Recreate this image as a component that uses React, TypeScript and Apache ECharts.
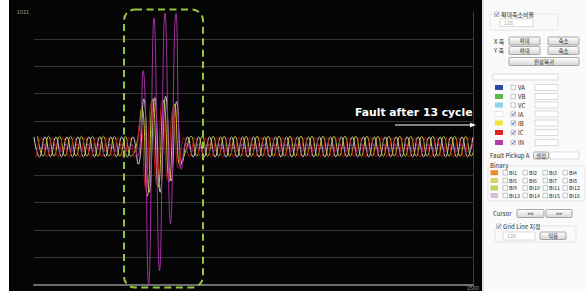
import React, { useEffect, useRef } from "react";
import * as echarts from "echarts";

// ---- axis ----
const X_MAX = 2560;
const Y_MAX = 1021;
const Y_INTERVAL = 204.2;
const HALF_CYCLE = 32; // samples between successive peaks

// ---- series: signed peak values, one per half cycle ----
const iaOffset = 0;
const iaPeaks = [
  85, -65, 85, -65, 85, -65, 85, -65, 85, -65,
  85, -65, 85, -65, 85, -65, 85, -65, 85, -120,
  370, -330, 380, -330, 390, -245, 350, -110, 85, -65,
  85, -65, 85, -65, 85, -65, 85, -65, 85, -65,
  85, -65, 85, -65, 85, -65, 85, -65, 85, -65,
  85, -65, 85, -65, 85, -65, 85, -65, 85, -65,
  85, -65, 85, -65, 85, -65, 85, -65, 85, -65,
  85, -65, 85, -65, 85, -65, 85, -65, 85, -65,
  85,
];
const ibOffset = 21;
const ibPeaks = [
  90, -60, 90, -60, 90, -60, 90, -60, 90, -60,
  90, -60, 90, -60, 90, -60, 90, -60, 20, 300,
  -360, 370, -290, 360, -250, 330, -130, -20, 90, -60,
  90, -60, 90, -60, 90, -60, 90, -60, 90, -60,
  90, -60, 90, -60, 90, -60, 90, -60, 90, -60,
  90, -60, 90, -60, 90, -60, 90, -60, 90, -60,
  90, -60, 90, -60, 90, -60, 90, -60, 90, -60,
  90, -60, 90, -60, 90, -60, 90, -60, 90, -60,
  90,
];
const icOffset = 11;
const icPeaks = [
  -65, 80, -65, 80, -65, 80, -65, 80, -65, 80,
  -65, 80, -65, 80, -65, 80, -65, 80, -65, 200,
  -300, 340, -270, 350, -240, 300, -150, 80, -65, 80,
  -65, 80, -65, 80, -65, 80, -65, 80, -65, 80,
  -65, 80, -65, 80, -65, 80, -65, 80, -65, 80,
  -65, 80, -65, 80, -65, 80, -65, 80, -65, 80,
  -65, 80, -65, 80, -65, 80, -65, 80, -65, 80,
  -65, 80, -65, 80, -65, 80, -65, 80, -65, 80,
  -65,
];
const inOffset = 28;
const inPeaks = [
  -20, 25, -20, 25, -20, 25, -20, 25, -20, 25,
  -20, 25, -20, 25, -20, 25, -20, 25, -60, 581,
  -1015, 976, -917, 1013, -566, 1010, -160, 40, -20, 25,
  -20, 25, -20, 25, -20, 25, -20, 25, -20, 25,
  -20, 25, -20, 25, -20, 25, -20, 25, -20, 25,
  -20, 25, -20, 25, -20, 25, -20, 25, -20, 25,
  -20, 25, -20, 25, -20, 25, -20, 25, -20, 25,
  -20, 25, -20, 25, -20, 25, -20, 25, -20, 25,
  -20,
];

// ---- panel content ----
const legendNames = ["VA", "VB", "VC", "IA", "IB", "IC", "IN"];
const legendColors = ["#2b4aa6", "#5cb84a", "#8fd3e6", "#ffffff", "#f0e43a", "#e52222", "#b23cab"];
const legendChecked = [false, false, false, true, true, true, true];
const binaryColors = ["#f08a2c", "#d6d466", "#b9d85a", "#dcbcdc"];
const binaryLabels = [
  ["BI1", "BI2", "BI3", "BI4"],
  ["BI5", "BI6", "BI7", "BI8"],
  ["BI9", "BI10", "BI11", "BI12"],
  ["BI13", "BI14", "BI15", "BI16"],
];
const annotationText = "Fault after 13 cycle";

// ---- layout ----
const legendRowY = [87.5, 96.5, 105, 114, 123, 132.5, 142.5];
const binaryRowY = [172.7, 180.5, 188, 195.5];
const binaryColX = [503, 523, 543, 563];

const FONT = '"Noto Sans CJK KR", "Noto Sans", sans-serif';

function txt(x: number, y: number, text: string, opts: any = {}) {
  return {
    type: "text",
    x,
    y,
    z: 20,
    style: {
      text,
      fill: opts.fill || "#2e2e2e",
      fontSize: opts.fontSize || 6,
      fontFamily: opts.fontFamily || FONT,
      fontWeight: opts.fontWeight || "normal",
      textAlign: opts.align || "left",
      textVerticalAlign: "middle",
    },
  };
}
function box(x: number, y: number, w: number, h: number, fill: string, stroke: string, r = 0, lw = 0.6) {
  return {
    type: "rect",
    z: 15,
    shape: { x, y, width: w, height: h, r },
    style: { fill, stroke, lineWidth: lw },
  };
}
function button(x: number, y: number, w: number, h: number, label: string) {
  return [
    {
      type: "rect",
      z: 15,
      shape: { x, y, width: w, height: h, r: 1.2 },
      style: {
        fill: new echarts.graphic.LinearGradient(0, 0, 0, 1, [
          { offset: 0, color: "#ffffff" },
          { offset: 1, color: "#d6d6d6" },
        ]),
        stroke: "#858585",
        lineWidth: 0.7,
      },
    },
    txt(x + w / 2, y + h / 2, label, { align: "center", fontSize: 5.5 }),
  ];
}
function checkbox(x: number, y: number, checked: boolean) {
  const els: any[] = [box(x, y, 4.5, 4.5, "#ffffff", "#8c8c8c", 0, 0.5)];
  if (checked) {
    els.push({
      type: "polyline",
      z: 16,
      shape: { points: [[x + 0.9, y + 2.3], [x + 1.9, y + 3.6], [x + 3.9, y + 0.7]] },
      style: { stroke: "#2456c8", lineWidth: 0.9, fill: null },
    });
  }
  return els;
}

function buildPanel() {
  const g: any[] = [];
  // backgrounds
  g.push({ type: "rect", z: 10, shape: { x: 0, y: 0, width: 9, height: 291 }, style: { fill: "#ffffff" } });
  g.push({ type: "rect", z: 10, shape: { x: 482, y: 0, width: 104, height: 291 }, style: { fill: "#fafafa" } });
  g.push({ type: "line", z: 11, shape: { x1: 483, y1: 0, x2: 483, y2: 291 }, style: { stroke: "#cfcfcf", lineWidth: 1 } });

  // zoom ratio group
  g.push(box(490, 14, 68, 16, "none", "#d6d6d6", 2, 0.6));
  g.push(box(493, 11.5, 33, 5.5, "#fafafa", "none", 0, 0));
  g.push(...checkbox(494.5, 12, true));
  g.push(txt(501, 14.3, "확대축소비율"));
  g.push(box(500, 19, 33, 7.5, "#ffffff", "#b8b8b8", 0, 0.5));
  g.push(txt(504, 22.8, "128", { fill: "#a8a8a8", fontSize: 5.5 }));

  // X/Y axis buttons
  g.push(txt(494, 41, "X 축"));
  g.push(...button(509, 37, 31, 8, "확대"));
  g.push(...button(548, 37, 31, 8, "축소"));
  g.push(txt(494, 50.5, "Y 축"));
  g.push(...button(509, 46.5, 31, 8, "확대"));
  g.push(...button(548, 46.5, 31, 8, "축소"));
  g.push(...button(509, 57.5, 70, 8, "원상복귀"));

  g.push(box(493, 74, 65, 6, "#ffffff", "#b8b8b8", 0, 0.5));

  // legend rows
  legendNames.forEach((name, i) => {
    const y = legendRowY[i];
    g.push(box(495, y - 2.5, 8, 5, legendColors[i], legendColors[i] === "#ffffff" ? "#cccccc" : "none", 0, 0.4));
    g.push(...checkbox(511, y - 2.25, legendChecked[i]));
    g.push(txt(518, y, name));
    g.push(box(535, y - 3, 23, 6, "#ffffff", "#b8b8b8", 0, 0.5));
  });

  // fault pickup
  g.push(txt(490, 155.5, "Fault Pickup A", { fontSize: 6 }));
  g.push(...button(533.5, 152, 15, 7, "설정"));
  g.push(box(550, 152, 29, 7, "#ffffff", "#b8b8b8", 0, 0.5));

  // binary group
  g.push(box(488, 166, 97, 35, "none", "#d6d6d6", 2, 0.6));
  g.push(box(489, 163, 18, 5.5, "#fafafa", "none", 0, 0));
  g.push(txt(490, 165.7, "Binary"));
  binaryColors.forEach((c, r) => {
    const y = binaryRowY[r];
    g.push(box(490.5, y - 2.5, 7.5, 5, c, "none", 0, 0));
    binaryLabels[r].forEach((lab, k) => {
      const x = binaryColX[k];
      g.push(...checkbox(x, y - 2.25, false));
      g.push(txt(x + 6, y, lab, { fontSize: 5.3 }));
    });
  });

  // cursor
  g.push(txt(493, 213.5, "Cursor"));
  g.push(...button(517, 209.5, 27, 8, "<<"));
  g.push(...button(546, 209.5, 26, 8, ">>"));

  // grid line group
  g.push(box(495, 226, 81, 16, "none", "#d6d6d6", 2, 0.6));
  g.push(box(495.5, 223, 46, 6, "#fafafa", "none", 0, 0));
  g.push(...checkbox(496.5, 224, true));
  g.push(txt(503, 226.3, "Grid Line 지정"));
  g.push(box(503, 232, 32, 8, "#ffffff", "#b8b8b8", 0, 0.5));
  g.push(txt(507, 236, "128", { fill: "#a8a8a8", fontSize: 5.5 }));
  g.push(...button(540, 232, 26, 7.5, "적용"));

  return g;
}

function toSeries(offset: number, peaks: number[]) {
  return peaks.map((v, i) => [offset + i * HALF_CYCLE, v]);
}

export default function App() {
  const ref = useRef<HTMLDivElement>(null);
  useEffect(() => {
    if (!ref.current) return;
    const chart = echarts.init(ref.current, null, { renderer: "svg" });
    const lineSeries = (name: string, data: any[], color: string) => ({
      name,
      type: "line",
      data,
      smooth: 0.5,
      showSymbol: false,
      symbol: "none",
      lineStyle: { color, width: 1 },
      clip: true,
      silent: true,
    });
    const graphics: any[] = [
      ...buildPanel(),
      // fault region dashed box
      {
        type: "rect",
        z: 30,
        shape: { x: 124, y: 9.5, width: 79, height: 278, r: 11 },
        style: { fill: "none", stroke: "#93c83e", lineWidth: 2, lineDash: [7, 4.5] },
      },
      // annotation
      {
        type: "text",
        x: 355,
        y: 112,
        z: 30,
        style: {
          text: annotationText,
          fill: "#ffffff",
          fontSize: 10.8,
          fontWeight: "bold",
          fontFamily: '"DejaVu Sans", sans-serif',
          textAlign: "left",
          textVerticalAlign: "middle",
        },
      },
      {
        type: "line",
        z: 30,
        shape: { x1: 395, y1: 125, x2: 472, y2: 125 },
        style: { stroke: "#ffffff", lineWidth: 1.2 },
      },
      {
        type: "polygon",
        z: 30,
        shape: { points: [[470, 122.8], [476, 125], [470, 127.2]] },
        style: { fill: "#ffffff" },
      },
    ];
    chart.setOption({
      animation: false,
      backgroundColor: "#050505",
      grid: { left: 34, right: 113, top: 12, bottom: 5, containLabel: false },
      xAxis: {
        type: "value",
        min: 0,
        max: X_MAX,
        axisLine: { show: true, onZero: false, lineStyle: { color: "#6e6e6e", width: 2 } },
        axisTick: { show: false },
        splitLine: { show: false },
        axisLabel: {
          show: true,
          margin: 1,
          fontSize: 5.5,
          color: "#9a9a9a",
          fontFamily: FONT,
          formatter: (v: number) => (v >= X_MAX ? String(X_MAX) : ""),
        },
      },
      yAxis: [
        {
          type: "value",
          min: -Y_MAX,
          max: Y_MAX,
          interval: Y_INTERVAL,
          axisLine: { show: false },
          axisTick: { show: false },
          splitLine: { show: true, showMaxLine: false, showMinLine: false, lineStyle: { color: "#353535", width: 1 } },
          axisLabel: {
            show: true,
            margin: 5,
            fontSize: 5.5,
            color: "#9a9a9a",
            fontFamily: FONT,
            formatter: (v: number) => (v >= Y_MAX - 1 ? String(Y_MAX) : ""),
          },
        },
        {
          type: "value",
          position: "right",
          min: -Y_MAX,
          max: Y_MAX,
          interval: Y_INTERVAL,
          axisLine: { show: true, onZero: false, lineStyle: { color: "#3a3a3a", width: 1 } },
          axisTick: { show: false },
          axisLabel: { show: false },
          splitLine: { show: false },
        },
      ],
      series: [
        lineSeries("IA", toSeries(iaOffset, iaPeaks), "#cfcfcf"),
        lineSeries("IB", toSeries(ibOffset, ibPeaks), "#c9c22a"),
        lineSeries("IC", toSeries(icOffset, icPeaks), "#b51616"),
        lineSeries("IN", toSeries(inOffset, inPeaks), "#a62fa6"),
      ],
      graphic: graphics,
    });
    return () => chart.dispose();
  }, []);
  return <div ref={ref} style={{ position: "absolute", left: 0, top: 0, width: 586, height: 291 }} />;
}
